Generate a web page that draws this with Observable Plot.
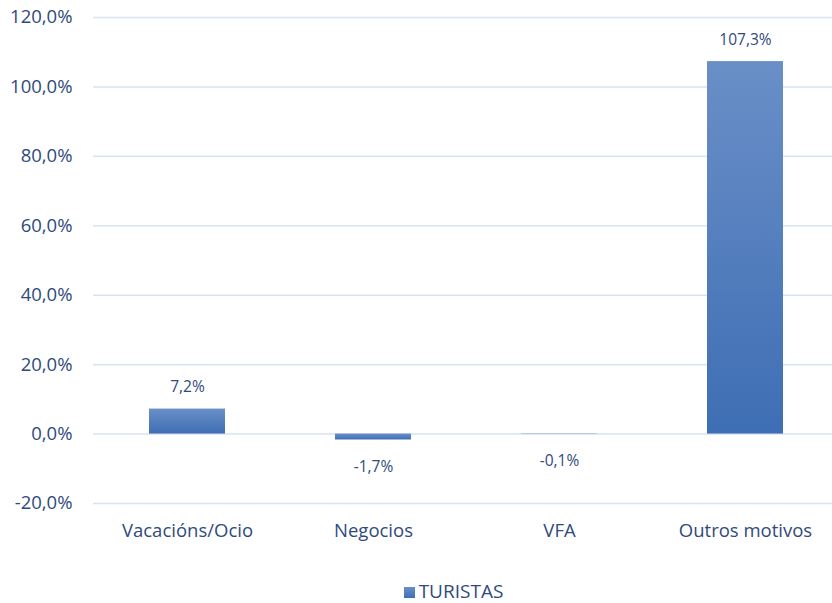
<!DOCTYPE html>
<html>
<head>
<meta charset="utf-8">
<script src="https://cdn.jsdelivr.net/npm/d3@7"></script>
<script src="https://cdn.jsdelivr.net/npm/@observablehq/plot@0.6"></script>
<style>
  html, body { margin: 0; background: #fff; font-family: "Open Sans", sans-serif; }
  #chart { width: 832px; height: 560px; }
  #chart svg { display: block; }
  .legend { width: 832px; height: 19px; line-height: 19px; margin-top: 22px; display: flex; justify-content: center; align-items: center; color: #2f4a7d; font-size: 19px; box-sizing: border-box; padding-left: 75px; }
  .legend .sw { display: inline-block; width: 11px; height: 11px; background: linear-gradient(#6a8fc7, #3f6fb5); margin-right: 4px; margin-top: 1px; }
  .legend .lab { display: inline-block; height: 19px; line-height: 19px; }
</style>
</head>
<body>
<div id="chart"></div>
<script>
const categories = ["Vacacións/Ocio", "Negocios", "VFA", "Outros motivos"];
const values = [7.2, -1.7, -0.1, 107.3];
const yTicks = [-20, 0, 20, 40, 60, 80, 100, 120];
const seriesName = "TURISTAS";

const data = categories.map((c, i) => ({cat: c, v: values[i]}));
const fmt = d => d.toFixed(1).replace(".", ",") + "%";
const textColor = "#2f4a7d";

const plot = Plot.plot({
  width: 832,
  height: 560,
  marginTop: 17,
  marginBottom: 57,
  marginLeft: 93,
  marginRight: 0,
  style: {fontFamily: "'Open Sans', sans-serif", color: textColor, background: "#fff"},
  x: {domain: categories, range: [93, 839], paddingInner: 0.59, paddingOuter: 0.295, label: null, tickSize: 0, tickPadding: 20},
  y: {domain: [-20, 120], ticks: yTicks, tickFormat: fmt, label: null, tickSize: 0, tickPadding: 21},
  marks: [
    Plot.ruleY(yTicks, {stroke: "#d9e2f1", strokeWidth: 1.5}),
    Plot.barY(data, {x: "cat", y: "v", fill: "url(#barGrad)"}),
    Plot.text(data.filter(d => d.v >= 0), {
      x: "cat", y: "v", text: d => fmt(d.v), dy: -22,
      fill: textColor, fontSize: 15.5
    }),
    Plot.text(data.filter(d => d.v < 0), {
      x: "cat", y: "v", text: d => fmt(d.v), dy: 27,
      fill: textColor, fontSize: 15.5
    })
  ]
});

const svg = d3.select(plot);
svg.selectAll("g[aria-label='y-axis tick label'], g[aria-label='x-axis tick label']")
  .attr("fill", textColor).style("font-size", "18.5px");

const defs = svg.insert("defs", ":first-child");
const grad = defs.append("linearGradient").attr("id", "barGrad")
  .attr("x1", 0).attr("y1", 0).attr("x2", 0).attr("y2", 1);
grad.append("stop").attr("offset", "0%").attr("stop-color", "#6a8fc7");
grad.append("stop").attr("offset", "100%").attr("stop-color", "#3e6eb4");

document.getElementById("chart").appendChild(plot);

const legend = document.createElement("div");
legend.className = "legend";
legend.innerHTML = `<span class="sw"></span><span class="lab">${seriesName}</span>`;
document.body.appendChild(legend);
</script>
</body>
</html>
